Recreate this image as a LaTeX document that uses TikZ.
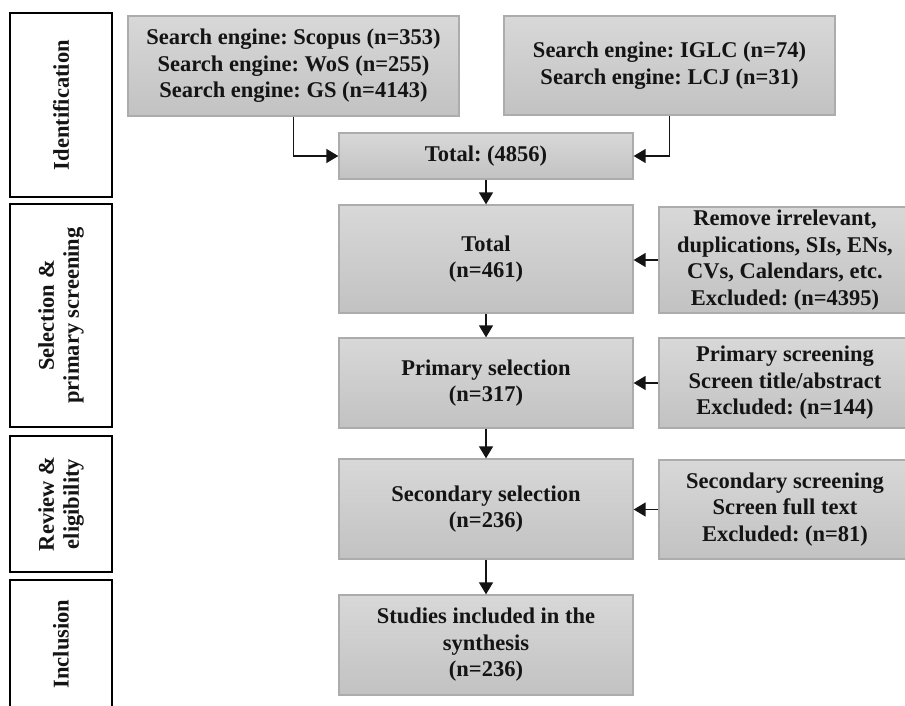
\documentclass[tikz,border=0pt]{standalone}
\usepackage{fontspec}
\setmainfont{Liberation Serif}
\usetikzlibrary{arrows.meta}
\frenchspacing

\definecolor{boxtop}{RGB}{216,216,216}
\definecolor{boxbot}{RGB}{194,194,194}
\definecolor{boxline}{RGB}{172,172,172}
\definecolor{ink}{RGB}{20,20,20}

\tikzset{
  proc/.style={draw=boxline, line width=1.3pt, top color=boxtop, bottom color=boxbot,
    align=center, inner sep=0pt, text=ink,
    font=\bfseries\fontsize{22.5}{26.5}\selectfont},
  stage/.style={draw=black, line width=2.2pt, fill=white, rotate=90,
    align=center, inner sep=0pt, text=ink,
    font=\bfseries\fontsize{22.5}{25}\selectfont},
  flow/.style={draw=ink, line width=1.4pt, -{Triangle[length=12pt,width=14pt]}}
}

\begin{document}
\begin{tikzpicture}[x=1pt,y=-1pt]
\useasboundingbox (0,0) rectangle (905,705);

% phase labels on the left
\node[stage, minimum width=184, minimum height=102] (idf) at (61,105) {Identification};
\node[stage, minimum width=223, minimum height=102] (sel) at (61,315.5) {Selection \&\\primary screening};
\node[stage, minimum width=136, minimum height=102] (rev) at (61,504) {Review \&\\eligibility};
\node[stage, minimum width=128, minimum height=102] (inc) at (61,644) {Inclusion};

% sources
\node[proc, minimum width=331, minimum height=100] (src1) at (293.5,66)
  {Search engine: Scopus (n=353)\\Search engine: WoS (n=255)\\Search engine: GS (n=4143)};
\node[proc, minimum width=331, minimum height=99] (src2) at (669.5,65.5)
  {Search engine: IGLC (n=74)\\Search engine: LCJ (n=31)};

% main column
\node[proc, minimum width=294, minimum height=46] (tot) at (486,156) {Total: (4856)};
\node[proc, minimum width=294, minimum height=108] (tot2) at (486,259) {Total\\(n=461)};
\node[proc, minimum width=294, minimum height=90] (prim) at (486,383) {Primary selection\\(n=317)};
\node[proc, minimum width=294, minimum height=100] (sec) at (486,509) {Secondary selection\\(n=236)};
\node[proc, minimum width=294, minimum height=100] (incl) at (486,645) {Studies included in the\\synthesis\\(n=236)};

% exclusions
\node[proc, minimum width=252, minimum height=106] (ex1) at (785,260)
  {Remove irrelevant,\\duplications, SIs, ENs,\\CVs, Calendars, etc.\\Excluded: (n=4395)};
\node[proc, minimum width=252, minimum height=90] (ex2) at (785,383)
  {Primary screening\\Screen title/abstract\\Excluded: (n=144)};
\node[proc, minimum width=252, minimum height=99] (ex3) at (785,509.5)
  {Secondary screening\\Screen full text\\Excluded: (n=81)};

% connectors
\draw[flow] (src1.south) |- (tot.west);
\draw[flow] (src2.south) |- (tot.east);
\draw[flow] (tot.south) -- (tot2.north);
\draw[flow] (tot2.south) -- (prim.north);
\draw[flow] (prim.south) -- (sec.north);
\draw[flow] (sec.south) -- (incl.north);
\draw[flow] (ex1.west) -- (ex1.west -| tot2.east);
\draw[flow] (ex2.west) -- (ex2.west -| prim.east);
\draw[flow] (ex3.west) -- (ex3.west -| sec.east);
\end{tikzpicture}
\end{document}
